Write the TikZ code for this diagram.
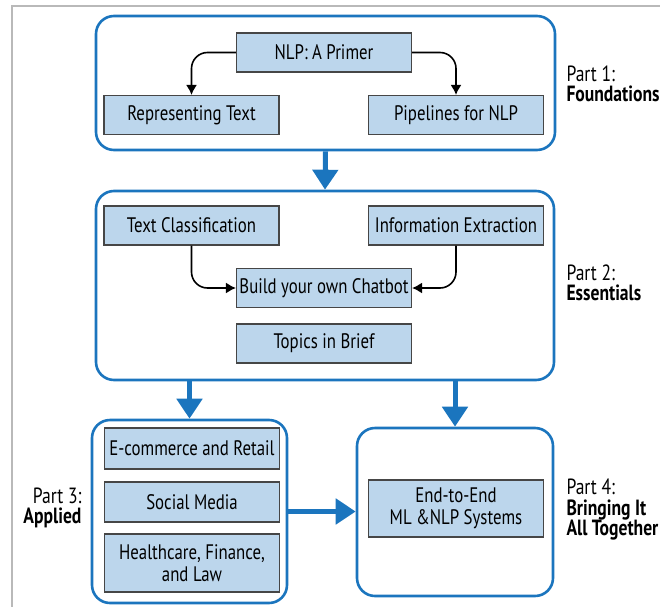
\documentclass[tikz,border=0pt]{standalone}
\usepackage{fontspec}
\setmainfont{PT Sans}[FakeStretch=0.8]
\usetikzlibrary{arrows.meta}

\definecolor{partblue}{RGB}{27,117,190}
\definecolor{topicfill}{RGB}{188,214,236}
\definecolor{topicline}{RGB}{70,70,70}

\tikzset{
  part/.style={draw=partblue,line width=2.6pt,rounded corners=18pt},
  topic/.style={draw=topicline,line width=1.1pt,fill=topicfill,
    minimum width=175pt,minimum height=39pt,inner sep=2pt,align=center,font=\fontsize{21}{21.5}\selectfont},
  flow/.style={-{Latex[length=10pt,width=11pt]},line width=1.6pt,rounded corners=16pt},
  bigflow/.style={-{Triangle[length=20pt,width=25pt]},draw=partblue,line width=5pt},
  parttag/.style={align=left,font=\fontsize{22}{20.5}\selectfont}
}

\begin{document}
\begin{tikzpicture}[x=1pt,y=-1pt]
  \useasboundingbox (0,0) rectangle (660,607);
  \draw[gray!55,line width=1.6pt] (660,6) -- (12,6) -- (12,607);

  % Part 1
  \node[part,minimum width=459pt,minimum height=134pt] (part1) at (325.5,83) {};
  \node[topic] (primer) at (324,52.5) {NLP: A Primer};
  \node[topic] (reptext) at (191.5,115) {Representing Text};
  \node[topic] (pipes) at (456,115) {Pipelines for NLP};
  \draw[flow] (primer.west) -| (reptext.north);
  \draw[flow] (primer.east) -| (pipes.north);
  \node[parttag,anchor=west] at (563,84) {Part 1:\\\textbf{Foundations}};

  % Part 2
  \node[part,minimum width=458pt,minimum height=189pt] (part2) at (325,285.5) {};
  \node[topic] (textcls) at (191.5,225.5) {Text Classification};
  \node[topic] (infoext) at (456,225.5) {Information Extraction};
  \node[topic] (chatbot) at (324,288) {Build your own Chatbot};
  \node[topic] (brief) at (324,343.5) {Topics in Brief};
  \draw[flow] (textcls.south) |- (chatbot.west);
  \draw[flow] (infoext.south) |- (chatbot.east);
  \node[parttag,anchor=west] at (563,283) {Part 2:\\\textbf{Essentials}};

  \draw[bigflow] (part1.south) -- (part2.north);

  % Part 3
  \node[part,minimum width=195pt,minimum height=183pt] (part3) at (189.5,511.5) {};
  \node[topic,minimum height=41pt] (ecom) at (192,448.5) {E-commerce and Retail};
  \node[topic,minimum height=40pt] (social) at (192,502) {Social Media};
  \node[topic,minimum height=58pt] (health) at (192,563) {Healthcare, Finance,\\and Law};
  \node[parttag,align=right,anchor=east] at (85,508) {Part 3:\\\textbf{Applied}};

  % Part 4
  \node[part,minimum width=196pt,minimum height=168pt] (part4) at (455,512) {};
  \node[topic,minimum height=57pt] (endtoend) at (456,508.5) {End-to-End\\ML \&NLP Systems};
  \node[parttag,anchor=west] at (563,510) {Part 4:\\\textbf{Bringing It}\\\textbf{All Together}};

  \draw[bigflow] (part3.north |- part2.south) -- (part3.north);
  \draw[bigflow] (part4.north |- part2.south) -- (part4.north);
  \draw[bigflow] (part3.east) -- (part4.west |- part3.east);
\end{tikzpicture}
\end{document}
